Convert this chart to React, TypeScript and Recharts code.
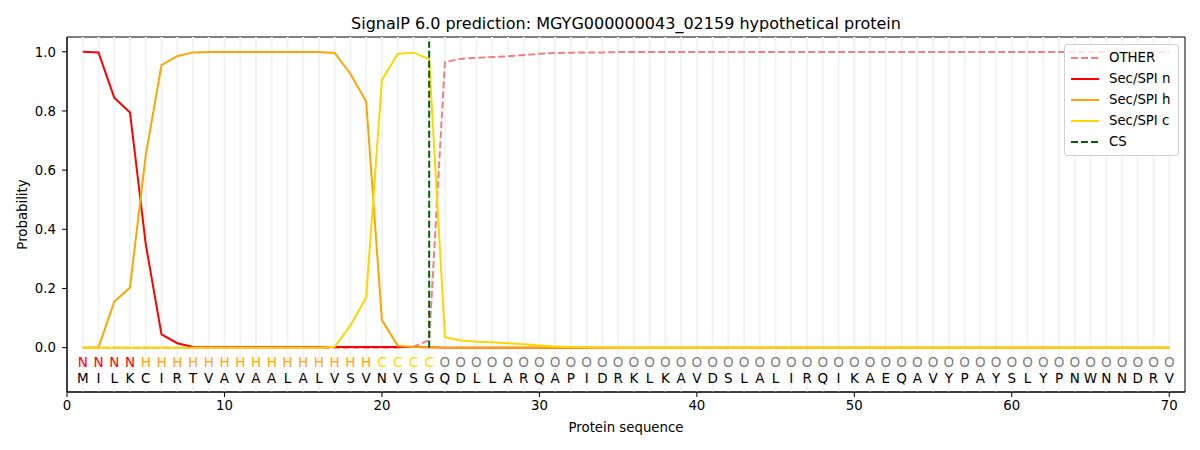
import React from "react";
import {
  ComposedChart,
  Line,
  Scatter,
  XAxis,
  YAxis,
  ReferenceLine,
  ReferenceArea,
} from "recharts";

const positions = [
  1, 2, 3, 4, 5, 6, 7, 8, 9, 10, 11, 12, 13, 14, 15, 16, 17, 18, 19, 20, 21, 22, 23, 24, 25, 26, 27, 28, 29, 30,
  31, 32, 33, 34, 35, 36, 37, 38, 39, 40, 41, 42, 43, 44, 45, 46, 47, 48, 49, 50, 51, 52, 53, 54, 55, 56, 57, 58,
  59, 60, 61, 62, 63, 64, 65, 66, 67, 68, 69, 70,
];

const sequence = "MILKCIRTVAVAALALVSVNVSGQDLLARQAPIDRKLKAVDSLALIRQIKAEQAVYPAYSLYPNWNNDRV".split("");
const regions = "NNNNHHHHHHHHHHHHHHHCCCCOOOOOOOOOOOOOOOOOOOOOOOOOOOOOOOOOOOOOOOOOOOOOOO".split("");

const otherProb = [
  0, 0, 0, 0, 0, 0, 0, 0, 0, 0, 0, 0, 0, 0, 0, 0, 0, 0, 0, 0, 0, 0.003, 0.025, 0.965, 0.976, 0.98, 0.982, 0.985,
  0.989, 0.993, 0.996, 0.997, 0.998, 0.998, 0.999, 0.999, 0.999, 0.999, 0.999, 0.999, 0.999, 0.999, 0.999, 0.999,
  0.999, 0.999, 0.999, 0.999, 0.999, 0.999, 0.999, 0.999, 0.999, 0.999, 0.999, 0.999, 0.999, 0.999, 0.999, 0.999,
  0.999, 0.999, 0.999, 0.999, 0.999, 0.999, 0.999, 0.999, 0.999, 0.999,
];

const nProb = [
  1.0, 0.998, 0.845, 0.795, 0.35, 0.045, 0.015, 0.002, 0.001, 0.001, 0.001, 0.001, 0.001, 0.001, 0.001, 0.001,
  0.002, 0.002, 0.002, 0.002, 0.002, 0.002, 0.001, 0, 0, 0, 0, 0, 0, 0, 0, 0, 0, 0, 0, 0, 0, 0, 0, 0, 0, 0, 0, 0,
  0, 0, 0, 0, 0, 0, 0, 0, 0, 0, 0, 0, 0, 0, 0, 0, 0, 0, 0, 0, 0, 0, 0, 0, 0, 0,
];

const hProb = [
  0, 0.001, 0.155, 0.203, 0.65, 0.955, 0.985, 0.998, 0.999, 0.999, 0.999, 0.999, 0.999, 0.999, 0.999, 0.999,
  0.996, 0.925, 0.832, 0.093, 0.006, 0.002, 0.001, 0, 0, 0, 0, 0, 0, 0, 0, 0, 0, 0, 0, 0, 0, 0, 0, 0, 0, 0, 0, 0,
  0, 0, 0, 0, 0, 0, 0, 0, 0, 0, 0, 0, 0, 0, 0, 0, 0, 0, 0, 0, 0, 0, 0, 0, 0, 0,
];

const cProb = [
  0, 0, 0, 0, 0, 0, 0, 0, 0, 0, 0, 0, 0, 0, 0, 0, 0.003, 0.075, 0.17, 0.905, 0.993, 0.997, 0.975, 0.035, 0.024,
  0.02, 0.018, 0.015, 0.011, 0.007, 0.004, 0.002, 0.001, 0, 0, 0, 0, 0, 0, 0, 0, 0, 0, 0, 0, 0, 0, 0, 0, 0, 0, 0,
  0, 0, 0, 0, 0, 0, 0, 0, 0, 0, 0, 0, 0, 0, 0, 0, 0, 0,
];

const cleavageSite = 23;
const xTicks = [0, 10, 20, 30, 40, 50, 60, 70];
const yTicks = [0, 0.2, 0.4, 0.6, 0.8, 1.0];

const regionColors: Record<string, string> = {
  N: "#ff0000",
  H: "#ffa500",
  C: "#ffd700",
  O: "#808080",
};

const legendItems = [
  { name: "OTHER", color: "#f08080", dashed: true },
  { name: "Sec/SPI n", color: "#ff0000", dashed: false },
  { name: "Sec/SPI h", color: "#ffa500", dashed: false },
  { name: "Sec/SPI c", color: "#ffd700", dashed: false },
  { name: "CS", color: "#006400", dashed: true },
];

const FONT = "'DejaVu Sans', sans-serif";

const chartData = positions.map((x, i) => ({
  x,
  other: otherProb[i],
  n: nProb[i],
  h: hProb[i],
  c: cProb[i],
}));

const regionRow = positions.map((x, i) => ({ x, y: -0.047, label: regions[i] }));
const seqRow = positions.map((x, i) => ({ x, y: -0.102, label: sequence[i] }));

const renderLetter = (colorOf: (l: string) => string) => (props: any) => {
  const { cx, cy, payload } = props;
  if (cx === undefined || cy === undefined) return <g />;
  return (
    <text
      x={cx}
      y={cy}
      textAnchor="middle"
      dominantBaseline="central"
      fontSize={13.5}
      fontFamily={FONT}
      fill={colorOf(payload.label)}
    >
      {payload.label}
    </text>
  );
};

const LegendBox = () => (
  <div
    style={{
      position: "absolute",
      top: 44,
      left: 1064,
      border: "1px solid #d0d0d0",
      borderRadius: 3,
      background: "rgba(255,255,255,0.8)",
      padding: "2px 0 3px 0",
      width: 113,
      fontSize: 13.3,
      color: "#000",
    }}
  >
    {legendItems.map((item) => (
      <div key={item.name} style={{ display: "flex", alignItems: "center", height: 21 }}>
        <svg width={44} height={10} style={{ flex: "none" }}>
          <line
            x1={6}
            x2={34}
            y1={5}
            y2={5}
            stroke={item.color}
            strokeWidth={2}
            strokeDasharray={item.dashed ? "7 3" : undefined}
          />
        </svg>
        <span>{item.name}</span>
      </div>
    ))}
  </div>
);

export default function App() {
  return (
    <div style={{ position: "absolute", left: 0, top: 0, width: 1200, height: 450, background: "#fff", fontFamily: FONT }}>
      <div
        style={{
          position: "absolute",
          top: 14,
          left: 67,
          width: 1118,
          textAlign: "center",
          fontSize: 16,
          color: "#000",
        }}
      >
        SignalP 6.0 prediction: MGYG000000043_02159 hypothetical protein
      </div>
      <ComposedChart
        width={1200}
        height={450}
        data={chartData}
        margin={{ top: 37, right: 15, bottom: 8, left: 7 }}
      >
        <XAxis
          dataKey="x"
          type="number"
          domain={[0, 71]}
          ticks={xTicks}
          allowDataOverflow
          height={50}
          tickSize={5}
          tickMargin={4}
          stroke="#000"
          tick={{ fill: "#000", fontSize: 13.3, fontFamily: FONT }}
          label={{
            value: "Protein sequence",
            position: "insideBottom",
            offset: 10,
            fill: "#000",
            fontSize: 13.3,
            fontFamily: FONT,
          }}
        />
        <YAxis
          type="number"
          domain={[-0.15, 1.05]}
          ticks={yTicks}
          allowDataOverflow
          width={60}
          tickSize={5}
          tickMargin={6}
          stroke="#000"
          tickFormatter={(v: number) => v.toFixed(1)}
          tick={{ fill: "#000", fontSize: 13.3, fontFamily: FONT }}
          label={{
            content: (p: any) => {
              const vb = p.viewBox || {};
              const cx = (vb.x ?? 7) + 15;
              const cy = (vb.y ?? 37) + (vb.height ?? 355) / 2;
              return (
                <text
                  x={cx}
                  y={cy}
                  transform={`rotate(-90 ${cx} ${cy})`}
                  textAnchor="middle"
                  dominantBaseline="central"
                  fontSize={13.3}
                  fontFamily={FONT}
                  fill="#000"
                >
                  Probability
                </text>
              );
            },
          }}
        />
        {positions.map((x) => (
          <ReferenceLine key={`g${x}`} x={x} stroke="#f3f3f3" strokeWidth={2} />
        ))}
        <Line
          dataKey="other"
          stroke="#f08080"
          strokeWidth={2}
          strokeDasharray="7 3"
          dot={false}
          type="linear"
          isAnimationActive={false}
        />
        <Line dataKey="n" stroke="#ff0000" strokeWidth={2} dot={false} type="linear" isAnimationActive={false} />
        <Line dataKey="h" stroke="#ffa500" strokeWidth={2} dot={false} type="linear" isAnimationActive={false} />
        <Line dataKey="c" stroke="#ffd700" strokeWidth={2} dot={false} type="linear" isAnimationActive={false} />
        <ReferenceLine
          segment={[
            { x: cleavageSite, y: 0 },
            { x: cleavageSite, y: 1.035 },
          ]}
          stroke="#006400"
          strokeWidth={2}
          strokeDasharray="7 3"
        />
        <Scatter
          data={regionRow}
          dataKey="y"
          isAnimationActive={false}
          legendType="none"
          shape={renderLetter((l) => regionColors[l])}
        />
        <Scatter
          data={seqRow}
          dataKey="y"
          isAnimationActive={false}
          legendType="none"
          shape={renderLetter(() => "#000")}
        />
        <ReferenceArea x1={0} x2={71} y1={-0.15} y2={1.05} fill="none" stroke="#000" strokeWidth={1} />
      </ComposedChart>
      <LegendBox />
    </div>
  );
}
